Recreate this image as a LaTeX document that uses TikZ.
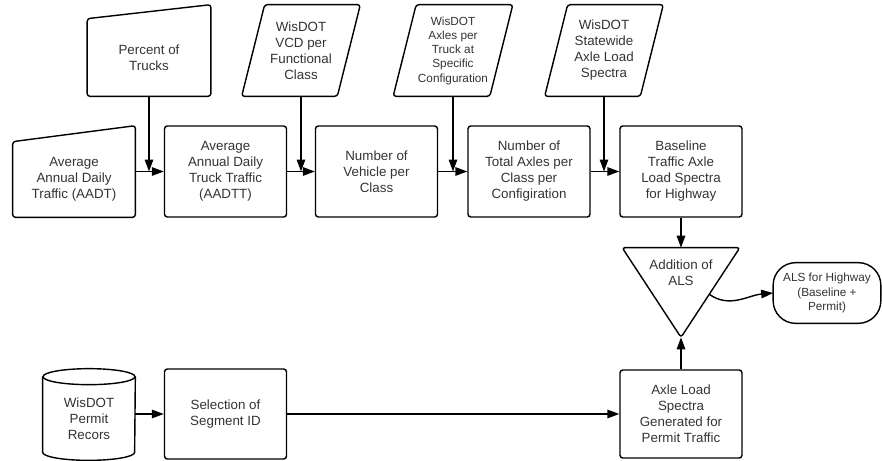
\documentclass[tikz,border=0pt]{standalone}
\usepackage{fontspec}
\setmainfont{Liberation Sans}
\usepackage{tikz}
\usetikzlibrary{arrows.meta,calc}

\begin{document}
\begin{tikzpicture}[
    x=0.02cm, y=-0.02cm,
    >={Triangle[length=2.4mm,width=1.7mm]},
    font=\fontsize{7.6}{9.1}\selectfont,
    text=black!80,
    box/.style={
        draw=black,
        line width=0.8pt,
        rounded corners=1.6pt,
        minimum width=2.44cm,
        minimum height=1.82cm,
        align=center
    },
    area/.style={
        inner sep=0pt,
        align=center
    },
    outl/.style={
        draw=black,
        line width=0.8pt,
        rounded corners=1.6pt
    },
    smalltxt/.style={font=\fontsize{6.7}{8.1}\selectfont},
    arr/.style={->, line width=0.8pt}
]
\useasboundingbox (0,0) rectangle (882,460);

% inputs (top row)
\node[area, minimum width=2.46cm, minimum height=1.54cm] (pct) at (149,57.5)
{Percent of\\Trucks};
\draw[outl] (pct.south west) -- (pct.north west) -- ([yshift=0.28cm]pct.north east) -- (pct.south east) -- cycle;

\node[area, minimum width=2.36cm, minimum height=1.82cm] (vcd) at (301,50.5)
{WisDOT\\VCD per\\Functional\\Class};
\draw[outl] ([xshift=0.46cm]vcd.north west) -- (vcd.north east) -- ([xshift=-0.46cm]vcd.south east) -- (vcd.south west) -- cycle;

\node[area, smalltxt, minimum width=2.38cm, minimum height=1.82cm] (axtr) at (453,50.5)
{WisDOT\\Axles per\\Truck at\\Specific\\Configuration};
\draw[outl] ([xshift=0.46cm]axtr.north west) -- (axtr.north east) -- ([xshift=-0.46cm]axtr.south east) -- (axtr.south west) -- cycle;

\node[area, minimum width=2.36cm, minimum height=1.82cm] (sws) at (604,50.5)
{WisDOT\\Statewide\\Axle Load\\Spectra};
\draw[outl] ([xshift=0.46cm]sws.north west) -- (sws.north east) -- ([xshift=-0.46cm]sws.south east) -- (sws.south west) -- cycle;

% main row
\node[area, minimum width=2.44cm, minimum height=1.5cm] (aadt) at (74,179.5)
{Average\\Annual Daily\\Traffic (AADT)};
\draw[outl] (aadt.south west) -- (aadt.north west) -- ([yshift=0.32cm]aadt.north east) -- (aadt.south east) -- cycle;

\node[box] (aadtt) at (225.5,171.5) {Average\\Annual Daily\\Truck Traffic\\(AADTT)};
\node[box] (veh) at (376.5,171.5) {Number of\\Vehicle per\\Class};
\node[box] (tax) at (529,171.5) {Number of\\Total Axles per\\Class per\\Configiration};
\node[box] (base) at (681,171.5) {Baseline\\Traffic Axle\\Load Spectra\\for Highway};

\draw[arr] (aadt.east |- aadtt.west) -- (aadtt.west);
\draw[arr] (aadtt) -- (veh);
\draw[arr] (veh) -- (tax);
\draw[arr] (tax) -- (base);

\draw[arr] (pct.south) -- (pct.south |- aadtt.west);
\draw[arr] (vcd.south) -- (vcd.south |- veh.west);
\draw[arr] (axtr.south) -- (axtr.south |- tax.west);
\draw[arr] (sws.south) -- (sws.south |- base.west);

% merge
\node[area, minimum width=2.34cm, minimum height=1.78cm] (add) at (681,292.5) {};
\draw[outl] (add.north west) -- (add.north east) -- (add.south) -- cycle;
\node[area] (addlbl) at (681,273) {Addition of\\ALS};

\node[area, smalltxt, minimum width=2.14cm, minimum height=1.2cm] (als) at (827,293)
{ALS for Highway\\(Baseline +\\Permit)};
\draw[outl, rounded corners=0.45cm] (als.south west) rectangle (als.north east);

\draw[arr] (base.south) -- (base.south |- add.north);
\draw[arr] ($(add.north east)!0.52!(add.south)$) to[out=-35,in=185] (als.west);

% permit branch
\node[area, minimum width=1.84cm, minimum height=1.66cm] (rec) at (89,418.5)
{WisDOT\\Permit\\Recors};
\draw[outl, rounded corners=0pt] (rec.north west) -- ([yshift=0.16cm]rec.south west)
    arc[start angle=180, end angle=360, x radius=0.92cm, y radius=0.16cm] -- (rec.north east);
\draw[outl] (rec.north) ellipse[x radius=0.92cm, y radius=0.16cm];

\node[box, minimum height=1.8cm] (sel) at (225.5,414) {Selection of\\Segment ID};
\node[box, minimum height=1.76cm] (alsp) at (681,414) {Axle Load\\Spectra\\Generated for\\Permit Traffic};

\draw[arr] (rec.east |- sel.west) -- (sel.west);
\draw[arr] (sel) -- (alsp);
\draw[arr] (alsp.north) -- (alsp.north |- add.south);

\end{tikzpicture}
\end{document}
